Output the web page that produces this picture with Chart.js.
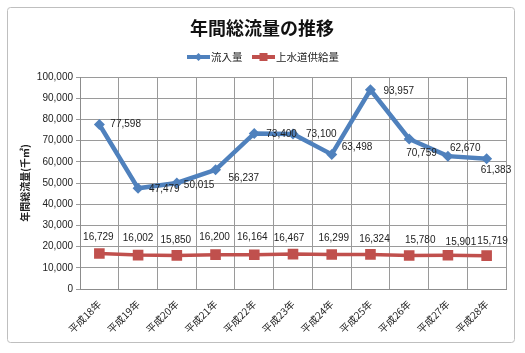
<!DOCTYPE html>
<html><head><meta charset="utf-8">
<script src="https://cdn.jsdelivr.net/npm/chart.js@4/dist/chart.umd.min.js"></script>
<style>html,body{margin:0;padding:0;background:#fff}#wrap{width:525px;height:353px;position:relative}</style>
</head><body><div id="wrap"><canvas id="c" width="525" height="353"></canvas></div>
<script>
const categories = ['平成18年','平成19年','平成20年','平成21年','平成22年','平成23年','平成24年','平成25年','平成26年','平成27年','平成28年'];
const inflow = [77598, 47479, 50015, 56237, 73400, 73100, 63498, 93957, 70759, 62670, 61383];
const supply = [16729, 16002, 15850, 16200, 16164, 16467, 16299, 16324, 15780, 15901, 15719];
const seriesNames = ['流入量', '上水道供給量'];
const chartTitle = '年間総流量の推移';
const yAxisTitle = '年間総流量(千㎥)';

// label placement offsets (style only)
const inflowLabelOffsets = [[11,0],[11,1],[7,2],[13,8],[12,1],[13,0],[10,-7],[13,1],[-3,14],[2,-8],[-6,11]];
const supplyLabelOffsets = [[-1,-16],[0,-17],[-1,-15],[-1,-17],[-2,-17],[-4,-16],[2,-16],[4,-15],[11,-15],[13,-13],[6,-14]];

const BLUE = '#4F81BD', RED = '#C0504D';
const fmt = v => Number(v).toLocaleString('en-US');

const decor = {
  id: 'decor',
  beforeDraw(chart) {
    const ctx = chart.ctx;
    ctx.save();
    ctx.fillStyle = '#fff';
    ctx.fillRect(0, 0, chart.width, chart.height);
    ctx.strokeStyle = '#bfbfbf';
    ctx.lineWidth = 1;
    ctx.beginPath();
    ctx.roundRect(7.5, 7.5, 507, 335, 3);
    ctx.stroke();
    ctx.restore();
  },
  afterDraw(chart) {
    const ctx = chart.ctx;
    ctx.save();
    ctx.fillStyle = '#111';
    ctx.font = 'bold 18px "Noto Sans CJK JP"';
    ctx.textAlign = 'center';
    ctx.textBaseline = 'middle';
    ctx.fillText(chartTitle, 262, 28);
    ctx.font = '10.5px "Noto Sans CJK JP"';
    ctx.textAlign = 'left';
    const items = [{x: 187, c: BLUE, s: 'diamond', t: seriesNames[0]}, {x: 252, c: RED, s: 'square', t: seriesNames[1]}];
    items.forEach(it => {
      ctx.strokeStyle = it.c; ctx.fillStyle = it.c; ctx.lineWidth = 4;
      ctx.beginPath(); ctx.moveTo(it.x, 57); ctx.lineTo(it.x + 23, 57); ctx.stroke();
      const cx = it.x + 11.5;
      ctx.beginPath();
      if (it.s === 'diamond') { ctx.moveTo(cx, 53); ctx.lineTo(cx + 4, 57); ctx.lineTo(cx, 61); ctx.lineTo(cx - 4, 57); ctx.closePath(); }
      else { ctx.rect(cx - 4, 53, 8, 8); }
      ctx.fill();
      ctx.fillStyle = '#222';
      ctx.fillText(it.t, it.x + 24, 57.5);
    });
    const ca = chart.chartArea;
    ctx.translate(25, (ca.top + ca.bottom) / 2);
    ctx.rotate(-Math.PI / 2);
    ctx.textAlign = 'center';
    ctx.font = 'bold 10px "Noto Sans CJK JP"';
    ctx.fillStyle = '#222';
    ctx.fillText(yAxisTitle, 0, 0);
    ctx.restore();
  },
  afterDatasetsDraw(chart) {
    const ctx = chart.ctx;
    ctx.save();
    ctx.font = '10px "Liberation Sans"';
    ctx.fillStyle = '#222';
    ctx.textBaseline = 'middle';
    const sets = [[inflow, inflowLabelOffsets, 'left'], [supply, supplyLabelOffsets, 'center']];
    sets.forEach((s, di) => {
      const meta = chart.getDatasetMeta(di);
      ctx.textAlign = s[2];
      meta.data.forEach((pt, i) => {
        const o = s[1][i];
        ctx.fillText(fmt(s[0][i]), pt.x + o[0], pt.y + o[1]);
      });
    });
    ctx.restore();
  }
};

new Chart(document.getElementById('c'), {
  type: 'line',
  data: {
    labels: categories,
    datasets: [
      { label: seriesNames[0], data: inflow, borderColor: BLUE, backgroundColor: BLUE, borderWidth: 4.5,
        pointStyle: 'rectRot', pointRadius: 5.5, pointBorderWidth: 0, tension: 0 },
      { label: seriesNames[1], data: supply, borderColor: RED, backgroundColor: RED, borderWidth: 3.5,
        pointStyle: 'rect', pointRadius: 7.5, pointBorderWidth: 0, tension: 0 }
    ]
  },
  options: {
    responsive: false,
    animation: false,
    devicePixelRatio: 1,
    layout: { padding: { left: 0, right: 19, top: 77, bottom: 0 } },
    plugins: { legend: { display: false }, title: { display: false }, tooltip: { enabled: false } },
    scales: {
      x: {
        offset: true,
        grid: { offset: true, color: '#9a9a9a', drawTicks: false },
        border: { color: '#8c8c8c' },
        ticks: { minRotation: 45, maxRotation: 45, padding: 9, color: '#222', font: { size: 10, family: '"Noto Sans CJK JP"' } },
        afterFit(s) { s.height = 64; }
      },
      y: {
        min: 0, max: 100000,
        grid: { color: '#9a9a9a', tickLength: 4 },
        border: { color: '#8c8c8c' },
        ticks: { stepSize: 10000, padding: 3, color: '#222', font: { size: 10, family: '"Liberation Sans"' }, callback: v => fmt(v) },
        afterFit(s) { s.width = 80; }
      }
    }
  },
  plugins: [decor]
});
</script></body></html>
